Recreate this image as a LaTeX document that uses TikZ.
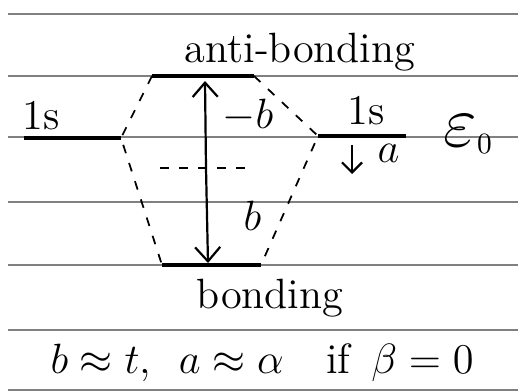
\documentclass[tikz,border=0pt]{standalone}
\usetikzlibrary{arrows.meta}

\begin{document}
\begin{tikzpicture}[
  x=0.34pt, y=-0.34pt,
  rule/.style={draw=black!50,line width=0.45pt},
  lev/.style={line width=1.4pt},
  corr/.style={dash pattern=on 3pt off 3.5pt,line width=0.6pt},
  arr/.style={line width=0.75pt,-{Straight Barb[length=1.7mm,width=3mm]}},
  sarr/.style={line width=0.75pt,-{Straight Barb[length=1.2mm,width=2.4mm]}},
  lab/.style={font=\Large,inner sep=0pt}
]
\useasboundingbox (0,0) rectangle (518,392);
% ruled paper
\foreach \y in {14,76,137,202,265,330,390}
  \draw[rule] (8,\y) -- (518,\y);
% levels
\coordinate (ab-w) at (152,76);
\coordinate (ab-e) at (254,76);
\coordinate (sl-w) at (24,138);
\coordinate (sl-e) at (121,138);
\coordinate (sr-w) at (318,136);
\coordinate (sr-e) at (406,136);
\coordinate (bd-w) at (162,265);
\coordinate (bd-e) at (261,265);
\draw[lev] (ab-w) -- (ab-e);
\draw[lev] (sl-w) -- (sl-e);
\draw[lev] (sr-w) -- (sr-e);
\draw[lev] (bd-w) -- (bd-e);
% correlation lines
\draw[corr] (ab-w) -- (sl-e) -- (bd-w);
\draw[corr] (ab-e) -- (sr-w) -- (bd-e);
\coordinate (md-w) at (160,168);
\coordinate (md-e) at (254,168);
\draw[corr] (md-w) -- (md-e);
% splitting
\coordinate (mid) at (206,168);
\coordinate (up) at (205,81);
\coordinate (dn) at (208,263);
\draw[arr] (mid) -- (up);
\draw[arr] (mid) -- (dn);
\coordinate (sh-t) at (352,145);
\coordinate (sh-b) at (352,174);
\draw[sarr] (sh-t) -- (sh-b);
% labels
\node[lab,anchor=base] (anti) at (300,63) {anti-bonding};
\node[lab,anchor=base west] (s-left) at (22,130) {1s};
\node[lab,anchor=base west] (mb) at (222,128) {$-b$};
\node[lab,anchor=base west] (s-right) at (347,125) {1s};
\node[lab,anchor=base west] (shift) at (377,163) {$a$};
\node[lab,anchor=base west] (eps) at (443,147) {\Huge$\varepsilon$\Large$_0$};
\node[lab,anchor=base west] (bb) at (243,230) {$b$};
\node[lab,anchor=base] (bond) at (270,308) {bonding};
\node[lab,anchor=base west] (rel) at (50,373) {$b\approx t$,\ \ $a\approx\alpha$\quad if\enskip $\beta=0$};
\end{tikzpicture}
\end{document}
